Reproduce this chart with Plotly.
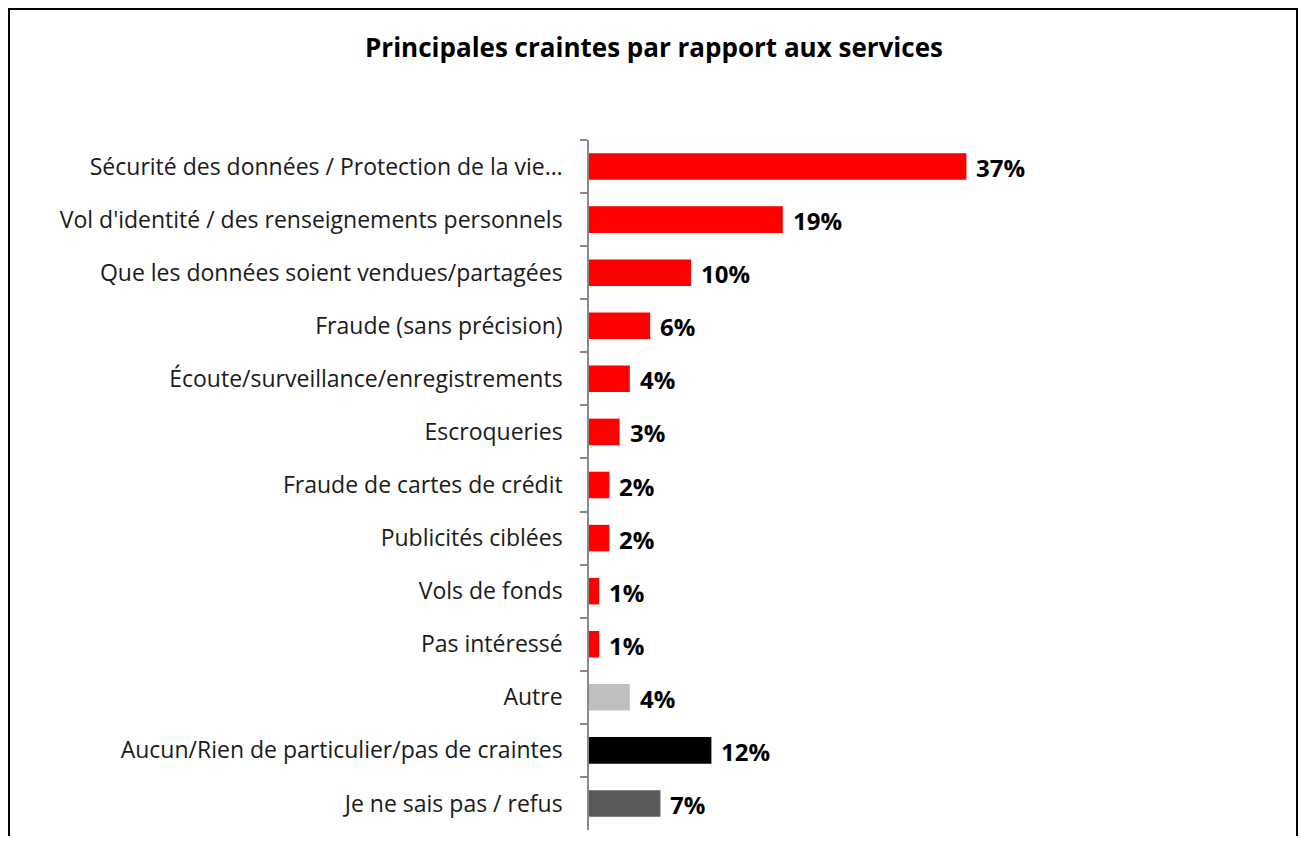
import plotly.graph_objects as go

categories = [
    "Sécurité des données / Protection de la vie…",
    "Vol d'identité / des renseignements personnels",
    "Que les données soient vendues/partagées",
    "Fraude (sans précision)",
    "Écoute/surveillance/enregistrements",
    "Escroqueries",
    "Fraude de cartes de crédit",
    "Publicités ciblées",
    "Vols de fonds",
    "Pas intéressé",
    "Autre",
    "Aucun/Rien de particulier/pas de craintes",
    "Je ne sais pas / refus",
]
values = [37, 19, 10, 6, 4, 3, 2, 2, 1, 1, 4, 12, 7]
value_labels = ["37%", "19%", "10%", "6%", "4%", "3%", "2%", "2%", "1%", "1%", "4%", "12%", "7%"]
bar_colors = ["#FF0000"] * 10 + ["#BFBFBF", "#000000", "#595959"]
title_text = "Principales craintes par rapport aux services"

OFF = 8  # page body margin
W, H = 1307 - 2 * OFF, 844 - 2 * OFF
L, T = 589 - OFF, 140 - OFF
B = H - (830 - OFF)
XMAX = 50
PXPER = 10.2
plot_w = XMAX * PXPER
R = W - L - plot_w
plot_h = H - T - B

FONT = "Open Sans"

fig = go.Figure()
fig.add_trace(go.Bar(
    y=categories, x=values, orientation="h",
    marker=dict(color=bar_colors, line=dict(width=0)),
    width=0.5, hoverinfo="skip",
))

for c, v, t in zip(categories, values, value_labels):
    fig.add_annotation(x=v, y=c, text="<b>%s</b>" % t, showarrow=False,
                       xanchor="left", yanchor="middle", xshift=8, yshift=-1,
                       font=dict(family=FONT, size=24, color="#000000"))

def fx(px):  # figure pixel -> paper x
    return (px - L) / plot_w

def fy(py):  # figure pixel -> paper y
    return (H - B - py) / plot_h

fig.add_shape(type="rect", xref="paper", yref="paper",
              x0=fx(1), x1=fx(W - 2),
              y0=fy(H + 20), y1=fy(1),
              line=dict(color="#000000", width=2), fillcolor="rgba(0,0,0,0)", layer="above")

fig.update_layout(
    width=W, height=H,
    margin=dict(l=L, r=R, t=T, b=B, pad=0),
    paper_bgcolor="white", plot_bgcolor="white",
    showlegend=False,
    title=dict(text="<b>%s</b>" % title_text, x=(654 - OFF) / W, xref="container", xanchor="center",
               y=1 - (48 - OFF) / H, yref="container", yanchor="middle",
               font=dict(family=FONT, size=26, color="#000000")),
    xaxis=dict(range=[0, XMAX], visible=False, fixedrange=True),
    yaxis=dict(autorange="reversed", type="category",
               showline=True, linecolor="#888888", linewidth=1.5,
               ticks="outside", ticklen=7, tickcolor="#888888", tickwidth=1.5,
               tickson="boundaries", showgrid=False, zeroline=False,
               ticklabelstandoff=20,
               tickfont=dict(family=FONT, size=23, color="#1a1a1a")),
    bargap=0.5,
)

fig.write_html("out.html")
